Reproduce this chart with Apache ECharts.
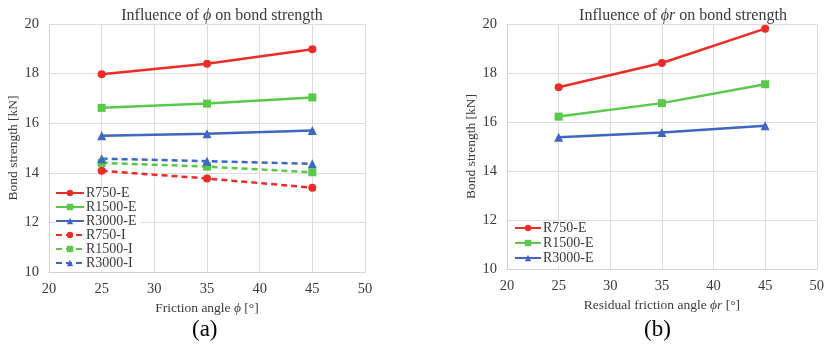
<!DOCTYPE html>
<html><head><meta charset="utf-8">
<script src="https://cdn.jsdelivr.net/npm/echarts@6/dist/echarts.min.js"></script>
<style>html,body{margin:0;padding:0;background:#fff}#c{width:827px;height:349px}</style>
</head><body><div id="c"></div>
<script>
const angles = [25, 35, 45];
const xTicks = [20, 25, 30, 35, 40, 45, 50];
const yTicks = [10, 12, 14, 16, 18, 20];
// (a) Friction angle
const aR750E  = [17.97, 18.40, 18.98];
const aR1500E = [16.62, 16.79, 17.04];
const aR3000E = [15.49, 15.57, 15.71];
const aR750I  = [14.08, 13.77, 13.40];
const aR1500I = [14.40, 14.25, 14.02];
const aR3000I = [14.57, 14.47, 14.36];
// (b) Residual friction angle
const bR750E  = [17.42, 18.41, 19.81];
const bR1500E = [16.22, 16.77, 17.54];
const bR3000E = [15.38, 15.57, 15.85];

const RED = '#ec2d27', GREEN = '#58c94a', BLUE = '#3f66c2';
const FONT = 'Liberation Serif';
const TXT = '#3a3a3a';
const pair = arr => arr.map((v, i) => [angles[i], v]);

function mk(name, data, color, sym, dashed, xi) {
  return {
    name, type: 'line', xAxisIndex: xi, yAxisIndex: xi, data: pair(data),
    symbol: sym, symbolSize: sym === 'triangle' ? 9 : 8,
    itemStyle: { color },
    lineStyle: { color, width: 2.5, type: dashed ? [6, 4] : 'solid' },
    animation: false
  };
}

const axisX = (gi, name) => ({
  type: 'value', gridIndex: gi, min: 20, max: 50, interval: 5,
  name, nameLocation: 'middle', nameGap: 17,
  nameTextStyle: { fontFamily: FONT, fontSize: 13.5, color: TXT, rich: { i: { fontFamily: FONT, fontStyle: 'italic', fontSize: 13.5, color: TXT } } },
  axisLine: { show: true, lineStyle: { color: '#d0d0d0' } },
  axisTick: { show: false },
  axisLabel: { fontFamily: FONT, fontSize: 14.5, color: TXT, margin: 10 },
  splitLine: { show: true, lineStyle: { color: '#dcdcdc' } }
});
const axisY = (gi) => ({
  type: 'value', gridIndex: gi, min: 10, max: 20, interval: 2,
  name: 'Bond strength [kN]', nameLocation: 'middle', nameGap: 29, nameRotate: 90,
  nameTextStyle: { fontFamily: FONT, fontSize: 13.5, color: TXT },
  axisLine: { show: true, lineStyle: { color: '#d0d0d0' } },
  axisTick: { show: false },
  axisLabel: { fontFamily: FONT, fontSize: 14.5, color: TXT, margin: 10 },
  splitLine: { show: true, lineStyle: { color: '#dcdcdc' } }
});

const chart = echarts.init(document.getElementById('c'), null, { renderer: 'canvas' });
chart.setOption({
  backgroundColor: '#fff',
  animation: false,
  title: [
    { text: 'Influence of {i|ϕ} on bond strength', left: 217, top: 3, textAlign: 'center',
      textStyle: { fontFamily: FONT, fontSize: 16, fontWeight: 'normal', color: TXT,
        rich: { i: { fontFamily: FONT, fontStyle: 'italic', fontSize: 16, color: TXT } } } },
    { text: 'Influence of {i|ϕr} on bond strength', left: 678, top: 3, textAlign: 'center',
      textStyle: { fontFamily: FONT, fontSize: 16, fontWeight: 'normal', color: TXT,
        rich: { i: { fontFamily: FONT, fontStyle: 'italic', fontSize: 16, color: TXT } } } }
  ],
  grid: [
    { left: 49, top: 24, width: 316, height: 248 },
    { left: 507, top: 24, width: 314, height: 245 }
  ],
  xAxis: [axisX(0, 'Friction angle {i|ϕ} [°]'), axisX(1, 'Residual friction angle {i|ϕr} [°]')],
  yAxis: [axisY(0), axisY(1)],
  legend: [
    { data: ['R750-E', 'R1500-E', 'R3000-E', 'R750-I', 'R1500-I', 'R3000-I'],
      orient: 'vertical', left: 55, top: 186, itemWidth: 28, itemHeight: 8, itemGap: 0,
      backgroundColor: '#fff', padding: [0, 4, 0, 0],
      textStyle: { fontFamily: FONT, fontSize: 14, color: TXT, padding: [0, 0, 0, -3], lineHeight: 14 } },
    { data: ['R750-E ', 'R1500-E ', 'R3000-E '],
      orient: 'vertical', left: 514, top: 221, itemWidth: 26, itemHeight: 8, itemGap: 1,
      backgroundColor: '#fff', padding: [0, 4, 0, 0],
      formatter: n => n.trim(),
      textStyle: { fontFamily: FONT, fontSize: 14, color: TXT, padding: [0, 0, 0, -3], lineHeight: 14 } }
  ],
  series: [
    mk('R750-E', aR750E, RED, 'circle', false, 0),
    mk('R1500-E', aR1500E, GREEN, 'rect', false, 0),
    mk('R3000-E', aR3000E, BLUE, 'triangle', false, 0),
    mk('R750-I', aR750I, RED, 'circle', true, 0),
    mk('R1500-I', aR1500I, GREEN, 'rect', true, 0),
    mk('R3000-I', aR3000I, BLUE, 'triangle', true, 0),
    mk('R750-E ', bR750E, RED, 'circle', false, 1),
    mk('R1500-E ', bR1500E, GREEN, 'rect', false, 1),
    mk('R3000-E ', bR3000E, BLUE, 'triangle', false, 1)
  ],
  graphic: [
    { type: 'text', left: 192, top: 318, style: { text: '(a)', font: '23px "Liberation Serif"', fill: '#000' } },
    { type: 'text', left: 644, top: 318, style: { text: '(b)', font: '23px "Liberation Serif"', fill: '#000' } }
  ]
});
</script></body></html>
